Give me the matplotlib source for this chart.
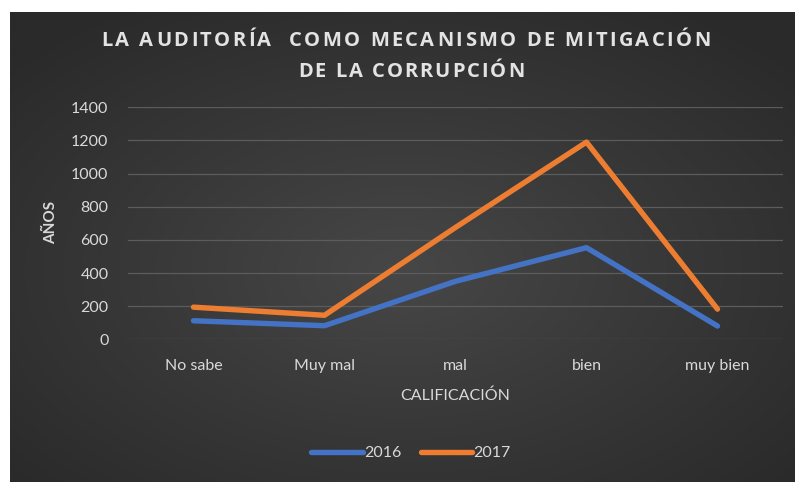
import numpy as np
import matplotlib
matplotlib.use("Agg")
import matplotlib.pyplot as plt
from matplotlib.colors import LinearSegmentedColormap
from matplotlib.font_manager import FontProperties

categories = ["No sabe", "Muy mal", "mal", "bien", "muy bien"]
s2016 = [112, 82, 350, 553, 80]
s2017 = [194, 145, 675, 1190, 182]
yticks = [0, 200, 400, 600, 800, 1000, 1200, 1400]
title_lines = ["LA AUDITORÍA  COMO MECANISMO DE MITIGACIÓN", "DE LA CORRUPCIÓN"]

W, H = 795, 482
fig = plt.figure(figsize=(W / 100, H / 100), dpi=100)
fig.patch.set_facecolor("white")

# dark radial-gradient background
x0 = 10 / W
bg = fig.add_axes([x0, 0, 1 - x0, 1 - 12 / H], zorder=0)
bg.set_axis_off()
yy, xx = np.mgrid[0:1:300j, 0:1:500j]
r = np.sqrt(((xx - 0.5) / 0.75) ** 2 + ((yy - 0.55) / 0.75) ** 2)
cmap = LinearSegmentedColormap.from_list("bg", ["#474747", "#383838", "#2a2a2a"])
bg.imshow(r, cmap=cmap, aspect="auto", extent=[0, 1, 0, 1], vmin=0, vmax=0.9)

left, right = 128 / W, 783 / W
bottom, top = 1 - 339.3 / H, 1 - 107.3 / H
ax = fig.add_axes([left, bottom, right - left, top - bottom], zorder=1)
ax.patch.set_alpha(0)
xs = np.arange(len(categories))
ax.plot(xs, s2016, color="#4472C4", lw=3.9, solid_capstyle="round", solid_joinstyle="round", label="2016", zorder=3)
ax.plot(xs, s2017, color="#ED7D31", lw=3.9, solid_capstyle="round", solid_joinstyle="round", label="2017", zorder=3)
ax.set_xlim(-0.5, len(categories) - 0.5)
ax.set_ylim(0, 1400)
ax.set_yticks(yticks)
ax.set_xticks(xs)
tick_font = "Lato"
ax.set_xticklabels(categories, fontsize=11.5, color="#d9d9d9", family=tick_font)
ax.set_yticklabels([str(v) for v in yticks], fontsize=11.5, color="#d9d9d9", family=tick_font)
ax.tick_params(length=0, pad=14, axis="y")
ax.tick_params(length=0, pad=14, axis="x")
for s in ax.spines.values():
    s.set_visible(False)
ax.grid(axis="y", color="#5c5c5c", lw=0.9)
ax.set_axisbelow(True)

fig.text(51 / W, 1 - 223 / H, "AÑOS", rotation=90, ha="center", va="center",
         fontsize=11, fontweight="bold", color="#d9d9d9", family=tick_font)
fig.text(455 / W, 1 - 396 / H, "CALIFICACIÓN", ha="center", va="center",
         fontsize=11.5, color="#d9d9d9", family=tick_font)

# letter-spaced title
renderer = fig.canvas.get_renderer()
fp = FontProperties(family="Open Sans", weight="bold", size=14.5)
ref_w = renderer.get_text_width_height_descent("I", fp, ismath=False)[0]


def prefix_width(s):
    return renderer.get_text_width_height_descent(s + "I", fp, ismath=False)[0] - ref_w


def spaced_text(s, cx, cy, spacing):
    total = prefix_width(s) + spacing * (len(s) - 1)
    start = cx - total / 2
    for i, ch in enumerate(s):
        if ch == " ":
            continue
        px = start + prefix_width(s[:i]) + spacing * i
        fig.text(px / W, 1 - cy / H, ch, ha="left", va="center", fontproperties=fp,
                 color="#e3e3e3")


spaced_text(title_lines[0], 406, 41, 2.5)
spaced_text(title_lines[1], 411, 72, 2.0)

leg = fig.legend(handles=ax.get_lines(), labels=["2016", "2017"], loc="center",
                 bbox_to_anchor=(411 / W, 1 - 453 / H), ncol=2, frameon=False,
                 handlelength=3.2, handletextpad=0.1, columnspacing=1.2,
                 prop={"family": tick_font, "size": 11.5})
for t in leg.get_texts():
    t.set_color("#d9d9d9")

fig.savefig("out.png", dpi=100, facecolor="white")
